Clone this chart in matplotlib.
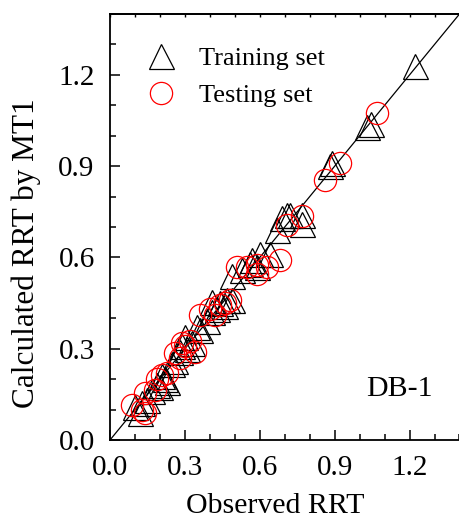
import numpy as np
import matplotlib
matplotlib.use("Agg")
import matplotlib.pyplot as plt
from matplotlib.ticker import MultipleLocator

plt.rcParams['font.family'] = ['Liberation Serif', 'DejaVu Serif']
plt.rcParams['mathtext.fontset'] = 'stix'

# Training set (observed, calculated)
train_obs = [0.10, 0.12, 0.13, 0.15, 0.17, 0.19, 0.20, 0.21, 0.22, 0.23,
             0.25, 0.26, 0.28, 0.29, 0.30, 0.31, 0.33,
             0.35, 0.36, 0.39, 0.41, 0.41, 0.43, 0.44, 0.46, 0.47, 0.49,
             0.49, 0.53, 0.56, 0.57, 0.59, 0.60, 0.64,
             0.67, 0.69, 0.71, 0.72, 0.77, 0.77,
             0.88, 0.89, 1.03, 1.045, 1.22]
train_calc = [0.11, 0.09, 0.12, 0.13, 0.16, 0.18, 0.175, 0.21, 0.20, 0.19,
              0.25, 0.26, 0.29, 0.31, 0.34, 0.30, 0.32,
              0.37, 0.36, 0.39, 0.42, 0.455, 0.43, 0.45, 0.44, 0.46, 0.46,
              0.54, 0.56, 0.58, 0.59, 0.57, 0.61, 0.61,
              0.69, 0.73, 0.74, 0.74, 0.74, 0.71,
              0.90, 0.91, 1.03, 1.04, 1.23]

# Testing set (observed, calculated)
test_obs = [0.09, 0.13, 0.14, 0.14, 0.18, 0.19, 0.21, 0.23,
            0.26, 0.28, 0.29, 0.32, 0.34, 0.30,
            0.36, 0.40, 0.42, 0.44, 0.46, 0.48,
            0.51, 0.55, 0.59, 0.59, 0.63, 0.68,
            0.71, 0.77, 0.86, 0.92, 1.07]
test_calc = [0.115, 0.10, 0.09, 0.155, 0.165, 0.20, 0.215, 0.22,
             0.285, 0.27, 0.32, 0.325, 0.29, 0.31,
             0.41, 0.43, 0.41, 0.445, 0.45, 0.46,
             0.57, 0.57, 0.575, 0.545, 0.57, 0.59,
             0.705, 0.735, 0.855, 0.91, 1.075]

tick_vals = [0.0, 0.3, 0.6, 0.9, 1.2]
tick_labels = ['0.0', '0.3', '0.6', '0.9', '1.2']

W, H = 459, 522
fig = plt.figure(figsize=(W/100, H/100), dpi=100)
ax = fig.add_axes([110/W, (H-440)/H, 349.5/W, 426/H])

ax.plot([0, 1.4], [0, 1.4], color='black', lw=0.9, zorder=1)
ax.plot(train_obs, train_calc, linestyle='none', marker='^', ms=18,
        mfc='none', mec='black', mew=0.9, label='Training set', zorder=2)
ax.plot(test_obs, test_calc, linestyle='none', marker='o', ms=16,
        mfc='none', mec='red', mew=0.9, label='Testing set', zorder=3)

ax.set_xlim(0, 1.4)
ax.set_ylim(0, 1.4)
ax.xaxis.set_minor_locator(MultipleLocator(0.1))
ax.yaxis.set_minor_locator(MultipleLocator(0.1))
ax.set_xticks(tick_vals)
ax.set_yticks(tick_vals)
ax.set_xticklabels(tick_labels)
ax.set_yticklabels(tick_labels)
ax.tick_params(which='both', direction='in', labelsize=21, width=1.1)
ax.tick_params(which='major', length=7, pad=11)
ax.tick_params(which='minor', length=4)
for s in ax.spines.values():
    s.set_linewidth(1.3)
ax.spines['right'].set_visible(False)

sec = ax.secondary_xaxis('top')
sec.set_xticks(np.arange(0, 1.41, 0.1))
sec.tick_params(direction='in', length=2, labeltop=False, width=1.0)
sec.spines['top'].set_linewidth(1.3)

ax.set_xlabel('Observed RRT', fontsize=21.5)
ax.set_ylabel('Calculated RRT by MT1', fontsize=22.5)
ax.xaxis.set_label_coords(0.472, -0.124)
ax.yaxis.set_label_coords(-0.197, 0.439)

ax.legend(loc='upper left', bbox_to_anchor=(0.04, 0.948), frameon=False,
          fontsize=19, handletextpad=0.45, labelspacing=0.5, borderaxespad=0)
ax.text(0.924, 0.09, 'DB-1', transform=ax.transAxes, fontsize=21.5,
        ha='right', va='bottom')

fig.savefig('out.png', dpi=100)
